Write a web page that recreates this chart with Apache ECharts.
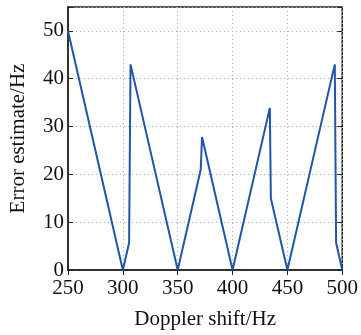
<!DOCTYPE html>
<html>
<head>
<meta charset="utf-8">
<script src="https://cdn.jsdelivr.net/npm/echarts@6/dist/echarts.min.js"></script>
<style>
html,body{margin:0;padding:0;background:#fff;}
#chart{width:361px;height:335px;}
</style>
</head>
<body>
<div id="chart"></div>
<script>
// Data
const dopplerShift = [250, 300, 305.7, 307, 350, 371, 372.2, 400, 434, 434.9, 450, 493.2, 494.4, 500];
const errorEstimate = [50, 0, 5.7, 43, 0, 21, 27.8, 0, 33.9, 15, 0, 43, 5.7, 0];
const xTicks = [250, 300, 350, 400, 450, 500];
const yTicks = [0, 10, 20, 30, 40, 50];
const xTitle = 'Doppler shift/Hz';
const yTitle = 'Error estimate/Hz';

const font = 'Liberation Serif';
const chart = echarts.init(document.getElementById('chart'), null, {renderer: 'canvas'});
const splitStyle = {show: true, lineStyle: {color: '#b0b0b0', type: [1, 3], width: 1}};
const tick = {show: true, inside: true, length: 5, lineStyle: {color: '#222', width: 1}};
chart.setOption({
  animation: false,
  grid: {left: 64, right: 14, top: 7, bottom: 58, show: true, borderColor: '#222', borderWidth: 1.5, backgroundColor: 'transparent'},
  xAxis: [{
    type: 'value', min: xTicks[0], max: xTicks[xTicks.length - 1], interval: 50,
    name: xTitle, nameLocation: 'middle', nameGap: 39,
    nameTextStyle: {fontFamily: font, fontSize: 21, color: '#111'},
    axisLine: {show: true, lineStyle: {color: '#222', width: 1.5}},
    axisTick: tick,
    axisLabel: {fontFamily: font, fontSize: 21, color: '#111', margin: 8},
    splitLine: splitStyle
  }, {
    type: 'value', position: 'top', min: xTicks[0], max: xTicks[xTicks.length - 1], interval: 50,
    axisLine: {show: false}, axisTick: tick, axisLabel: {show: false}, splitLine: {show: false}
  }],
  yAxis: [{
    type: 'value', min: 0, max: 55, interval: 10,
    name: yTitle, nameLocation: 'middle', nameGap: 39,
    nameTextStyle: {fontFamily: font, fontSize: 21, color: '#111'},
    axisLine: {show: true, lineStyle: {color: '#222', width: 1.5}},
    axisTick: tick,
    axisLabel: {fontFamily: font, fontSize: 21, color: '#111', margin: 4,
      formatter: v => yTicks.includes(v) ? String(v) : ''},
    splitLine: splitStyle
  }, {
    type: 'value', position: 'right', min: 0, max: 55, interval: 10,
    axisLine: {show: false}, axisTick: tick, axisLabel: {show: false}, splitLine: {show: false}
  }],
  series: [{
    type: 'line',
    data: dopplerShift.map((x, i) => [x, errorEstimate[i]]),
    showSymbol: false,
    lineStyle: {color: '#2155a8', width: 2},
    itemStyle: {color: '#2155a8'}
  }]
});
</script>
</body>
</html>
